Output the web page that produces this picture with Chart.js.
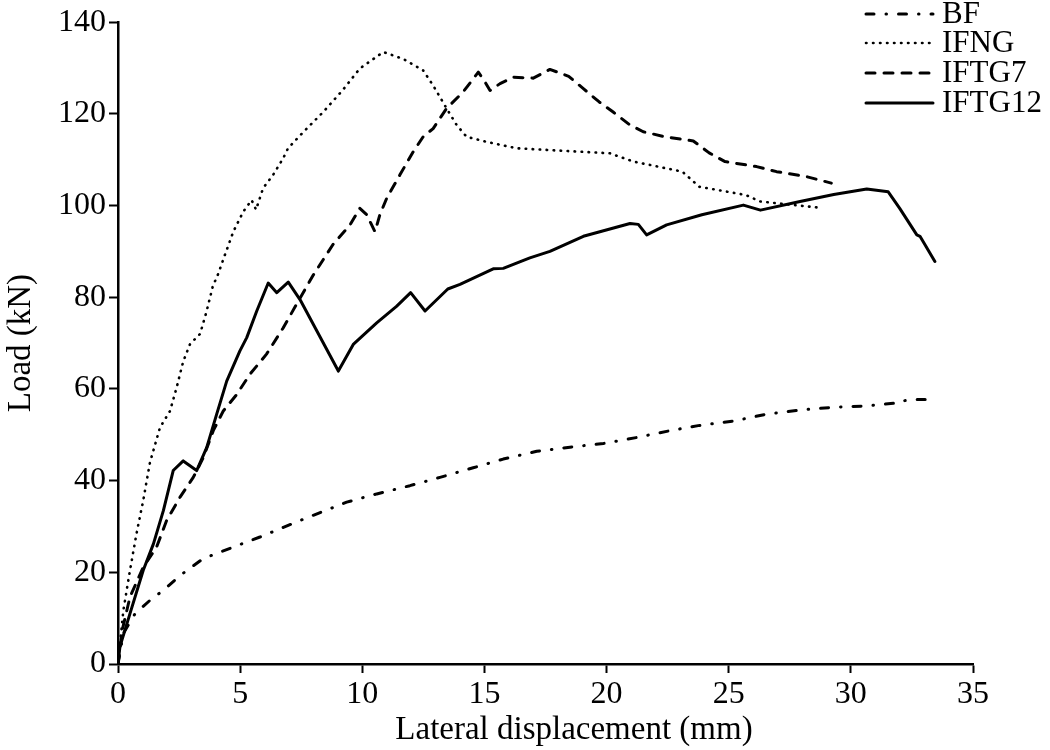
<!DOCTYPE html>
<html>
<head>
<meta charset="utf-8">
<title>Load vs lateral displacement</title>
<script src="https://cdn.jsdelivr.net/npm/chart.js@4.4.1/dist/chart.umd.min.js"></script>
<style>
  html, body { margin: 0; padding: 0; background: #fff; }
  canvas { display: block; }
</style>
</head>
<body>
<canvas id="loadChart" width="1050" height="750"></canvas>
<script>
// Lateral displacement (mm) and load (kN) for each specimen
const bfDisp = [0, 0.22, 0.7, 1.31, 1.86, 2.54, 3.49, 4.18, 4.72, 5.81, 6.77, 7.5, 9.36, 10.59, 11.95, 13.18, 14.54, 15.77, 17.14, 18.5, 19.87, 21.23, 22.6, 23.75, 25.19, 26.55, 27.92, 29.28, 30.65, 32, 32.1, 32.7, 33.44];
const bfLoad = [0, 6.7, 11, 13.9, 16.1, 19.3, 23, 24.4, 25.5, 27.7, 29.8, 31.4, 35.3, 37.1, 38.9, 40.7, 42.8, 44.7, 46.4, 47.3, 48.1, 49.4, 50.9, 52, 53, 54.5, 55.4, 56, 56.3, 57, 57.4, 57.7, 57.7];

const ifngDisp = [0, 0.22, 0.49, 0.76, 1.03, 1.31, 1.72, 2.13, 2.4, 2.67, 2.95, 3.36, 3.63, 3.9, 4.04, 4.38, 4.72, 5.13, 5.47, 5.65, 5.94, 6.35, 6.76, 6.96, 7.58, 8.4, 9.2, 9.9, 10.86, 11.67, 12.49, 12.9, 13.45, 13.86, 14.27, 15.09, 16.32, 17.68, 20.14, 21.1, 23.1, 23.8, 25.7, 26.28, 28.6];
const ifngLoad = [0, 11.7, 20.4, 28.5, 35.6, 44, 51.6, 55.2, 60.3, 66, 69.8, 72, 77, 82.8, 84.2, 89.3, 94.3, 98.7, 101.2, 99.1, 103.8, 106.7, 110.3, 112.5, 116, 120.4, 125.2, 129.9, 133.5, 132, 129.5, 126.2, 121.2, 117.6, 115, 113.9, 112.5, 112.1, 111.4, 109.6, 107.4, 104.1, 102.3, 100.9, 99.6];

const iftg7Disp = [0, 0.2, 0.49, 1.03, 1.58, 1.99, 2.54, 3.08, 3.49, 3.9, 4.31, 4.86, 5.4, 6.08, 6.76, 7.3, 8, 8.8, 9.5, 9.9, 10.18, 10.52, 10.72, 11, 11.54, 12.08, 12.49, 12.9, 13.45, 14.13, 14.75, 15.02, 15.23, 15.64, 16.18, 17, 17.68, 18.45, 19.05, 19.7, 20.27, 20.93, 21.5, 22.4, 23.55, 24.2, 24.85, 26.14, 26.96, 28.19, 29.2];
const iftg7Load = [0, 8, 14.6, 21.1, 25.5, 31.3, 36.4, 40.7, 45, 50.9, 55.2, 58.8, 63.2, 67.6, 73.3, 78.4, 84.9, 91.5, 95.8, 99.4, 98, 94.3, 98, 101.6, 106.7, 111.7, 115, 116.8, 121.2, 124.8, 129.1, 127, 125.1, 126.6, 128, 127.8, 129.7, 128.2, 125.5, 122.6, 120.4, 117.7, 116.1, 115, 114.1, 111.5, 109.6, 108.5, 107.4, 106.3, 104.9];

const iftg12Disp = [0, 0.08, 0.49, 1.03, 1.45, 1.86, 2.26, 2.67, 3.22, 3.63, 4.04, 4.45, 4.99, 5.27, 5.68, 6.15, 6.5, 6.97, 7.45, 9.02, 9.63, 10.59, 11.4, 11.98, 12.57, 13.5, 14, 15.36, 15.77, 16.86, 17.68, 19.05, 20.96, 21.3, 21.64, 22.46, 23.9, 25.6, 26.3, 27.92, 29.3, 30.65, 31.53, 32, 32.7, 32.83, 33.44];
const iftg12Load = [0, 3.8, 11, 20.4, 26.2, 33.5, 42.2, 44.3, 42.2, 47.2, 54.5, 61.7, 68.3, 71.2, 77, 83.1, 81, 83.3, 79.5, 63.9, 69.7, 74.4, 78, 81, 77, 81.8, 82.8, 86.2, 86.3, 88.6, 90, 93.3, 96.1, 95.9, 93.6, 95.8, 98, 100.1, 99, 100.9, 102.4, 103.6, 103, 99.4, 93.6, 93.3, 87.8];

const xTicks = [0, 5, 10, 15, 20, 25, 30, 35];
const yTicks = [0, 20, 40, 60, 80, 100, 120, 140];
const xTitle = 'Lateral displacement (mm)';
const yTitle = 'Load (kN)';

function toPoints(xs, ys) {
  return xs.map((x, i) => ({ x: x, y: ys[i] }));
}

const serif = "'Liberation Serif', 'Times New Roman', serif";
Chart.defaults.font.family = serif;
Chart.defaults.font.size = 32;
Chart.defaults.color = '#000';

// legend in the top right corner, overlapping the plot, plus the x axis title
// which sits a little right of the plot centre
const cornerLegend = {
  id: 'cornerLegend',
  afterDraw(chart) {
    const ctx = chart.ctx;
    const rows = [14, 43, 73, 103];
    ctx.save();
    chart.data.datasets.forEach((ds, i) => {
      const y = rows[i];
      ctx.beginPath();
      ctx.strokeStyle = '#000';
      ctx.lineWidth = ds.borderWidth;
      ctx.lineCap = ds.borderCapStyle;
      ctx.setLineDash(ds.borderDash);
      ctx.moveTo(866, y);
      ctx.lineTo(933, y);
      ctx.stroke();
      ctx.setLineDash([]);
      ctx.fillStyle = '#000';
      ctx.font = '31px ' + serif;
      ctx.textBaseline = 'middle';
      ctx.textAlign = 'left';
      ctx.fillText(ds.label, 942, y + 1);
    });

    ctx.font = '33px ' + serif;
    ctx.textAlign = 'center';
    ctx.textBaseline = 'middle';
    ctx.fillText(xTitle, 574, 730);
    ctx.restore();
  }
};

const ctx = document.getElementById('loadChart').getContext('2d');
new Chart(ctx, {
  type: 'line',
  data: {
    datasets: [
      {
        label: 'BF',
        data: toPoints(bfDisp, bfLoad),
        borderColor: '#000',
        borderWidth: 3,
        borderDash: [8, 12, 0.5, 12],
        borderCapStyle: 'round'
      },
      {
        label: 'IFNG',
        data: toPoints(ifngDisp, ifngLoad),
        borderColor: '#000',
        borderWidth: 2.6,
        borderDash: [0.5, 6.5],
        borderCapStyle: 'round'
      },
      {
        label: 'IFTG7',
        data: toPoints(iftg7Disp, iftg7Load),
        borderColor: '#000',
        borderWidth: 3,
        borderDash: [9, 9],
        borderCapStyle: 'round'
      },
      {
        label: 'IFTG12',
        data: toPoints(iftg12Disp, iftg12Load),
        borderColor: '#000',
        borderWidth: 3,
        borderDash: [],
        borderCapStyle: 'round'
      }
    ]
  },
  options: {
    responsive: false,
    animation: false,
    events: [],
    layout: { padding: { left: 0, right: 77, top: 20, bottom: 0 } },
    elements: {
      point: { radius: 0 },
      line: { tension: 0, borderJoinStyle: 'round', fill: false }
    },
    plugins: {
      legend: { display: false },
      tooltip: { enabled: false }
    },
    scales: {
      x: {
        type: 'linear',
        min: 0,
        max: 35,
        afterBuildTicks: scale => { scale.ticks = xTicks.map(v => ({ value: v })); },
        afterFit: scale => { scale.height = 86; },
        grid: { display: true, drawOnChartArea: false, drawTicks: true, tickLength: 9, tickWidth: 2, tickColor: '#000' },
        border: { display: true, color: '#000', width: 2.5 },
        ticks: { padding: 2, maxRotation: 0 },
        title: { display: false }
      },
      y: {
        type: 'linear',
        min: 0,
        max: 140,
        afterBuildTicks: scale => { scale.ticks = yTicks.map(v => ({ value: v })); },
        afterFit: scale => { scale.width = 118; },
        grid: { display: true, drawOnChartArea: false, drawTicks: true, tickLength: 9, tickWidth: 2, tickColor: '#000' },
        border: { display: true, color: '#000', width: 2.5 },
        ticks: { padding: 3 },
        title: { display: true, text: yTitle, font: { size: 33 }, padding: { top: 2, bottom: 4 } }
      }
    }
  },
  plugins: [cornerLegend]
});
</script>
</body>
</html>
